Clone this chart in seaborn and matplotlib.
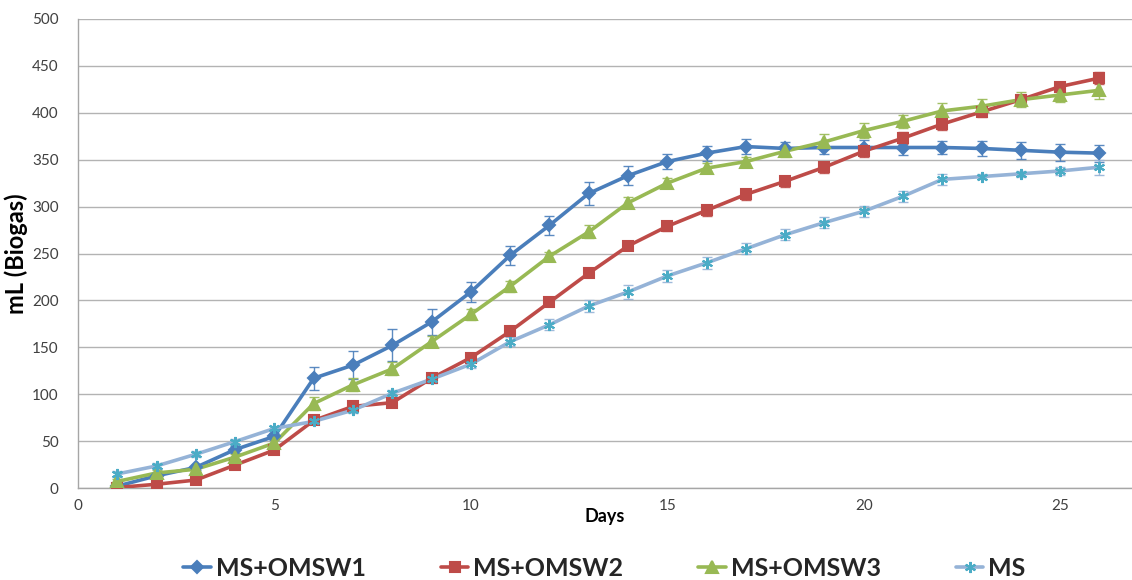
import numpy as np
import pandas as pd
import matplotlib
matplotlib.use("Agg")
import matplotlib.pyplot as plt
import seaborn as sns

days = list(range(1, 27))

omsw1 = [2, 13, 22, 41, 55, 117, 131, 152, 177, 209, 248, 280, 314, 333, 348, 357, 364, 362, 363, 363, 363, 363, 362, 360, 358, 357]
omsw2 = [0.5, 4, 8.5, 24.5, 40.5, 72, 87, 91, 117, 139, 167, 198, 229, 258, 279, 296, 313, 327, 342, 359, 373, 388, 401, 414, 428, 437]
omsw3 = [7, 16, 20, 33, 48, 90, 110, 127, 156, 185, 215, 247, 273, 304, 325, 341, 348, 359, 369, 381, 391, 402, 407, 414, 419, 424]
ms = [15, 23.5, 36, 49.5, 63.5, 71, 83, 101, 116, 132, 156, 174, 194, 209, 226, 240, 255, 270, 283, 295, 311, 329, 332, 335, 338, 342]

err1 = [2, 3, 3, 4, 4, 12, 15, 17, 14, 11, 10, 10, 12, 10, 8, 8, 8, 7, 7, 8, 8, 7, 8, 9, 9, 9]
err2 = [1, 2, 2, 3, 3, 4, 4, 4, 4, 4, 5, 4, 4, 4, 5, 6, 6, 6, 6, 6, 6, 6, 5, 5, 4, 6]
err3 = [3, 3, 3, 3, 4, 7, 7, 7, 6, 6, 6, 5, 7, 6, 5, 5, 5, 6, 8, 8, 7, 8, 8, 8, 7, 9]
err4 = [3, 3, 3, 3, 3, 3, 3, 3, 4, 4, 5, 6, 6, 7, 6, 6, 6, 6, 6, 6, 6, 6, 3, 3, 4, 8]

series_names = ["MS+OMSW1", "MS+OMSW2", "MS+OMSW3", "MS"]
y_ticks = [0, 50, 100, 150, 200, 250, 300, 350, 400, 450, 500]
x_ticks = [0, 5, 10, 15, 20, 25]

sns.set_theme(style="white")
plt.rcParams["font.family"] = ["Lato", "DejaVu Sans"]

fig = plt.figure(figsize=(11.32, 5.80), dpi=100)
ax = fig.add_axes([78 / 1132, 92 / 580, 1 - 78 / 1132, (488 - 19) / 580])

styles = [
    dict(line="#4A7EBB", mk="#4A7EBB", marker="D", ms=6.5),
    dict(line="#BE4B48", mk="#BE4B48", marker="s", ms=6.5),
    dict(line="#98B954", mk="#98B954", marker="^", ms=8),
    dict(line="#95B3D7", mk="#4BACC6", marker=(6, 2, 0), ms=8),
]
values = [omsw1, omsw2, omsw3, ms]
errs = [err1, err2, err3, err4]

handles = []
for name, vals, e, st in zip(series_names, values, errs, styles):
    df = pd.DataFrame({"Days": days, "val": vals})
    ax.errorbar(df["Days"], df["val"], yerr=e, fmt="none", ecolor=st["line"],
                elinewidth=1.0, capsize=3.5, capthick=1.0, zorder=2, alpha=0.9)
    sns.lineplot(data=df, x="Days", y="val", ax=ax, color=st["line"], lw=2.6,
                 zorder=3, legend=False)
    ax.plot(df["Days"], df["val"], ls="none", marker=st["marker"], ms=st["ms"],
            mfc=st["mk"], mec=st["mk"], mew=1.5, zorder=4)
    h, = ax.plot([], [], color=st["line"], lw=2.6, marker=st["marker"],
                 ms=st["ms"], mfc=st["mk"], mec=st["mk"], mew=1.5)
    handles.append(h)

ax.set_xlim(0, 26.83)
ax.set_ylim(0, 500)
ax.set_xticks(x_ticks)
ax.set_yticks(y_ticks)
ax.grid(axis="y", color="#B3B3B3", lw=1.0)
ax.grid(axis="x", visible=False)
for s in ["top", "right"]:
    ax.spines[s].set_visible(False)
for s in ["left", "bottom"]:
    ax.spines[s].set_color("#A6A6A6")
    ax.spines[s].set_linewidth(1.0)
ax.tick_params(axis="both", length=0, labelsize=11, colors="#404040", pad=8)
ax.tick_params(axis="y", pad=14)
ax.set_xlabel("Days", fontsize=13, fontweight="bold", color="#000000", labelpad=-4)
ax.set_ylabel("mL (Biogas)", fontsize=17, fontweight="bold", color="#000000")
ax.yaxis.set_label_coords(-0.047, 0.5)

leg = fig.legend(handles, series_names, loc="center", bbox_to_anchor=(0.534, 0.02),
                 ncol=4, frameon=False, handlelength=1.1, handletextpad=0.2,
                 columnspacing=3.0, prop={"family": ["Lato", "DejaVu Sans"],
                                          "weight": "bold", "size": 18})

fig.savefig("out.png", dpi=100)
